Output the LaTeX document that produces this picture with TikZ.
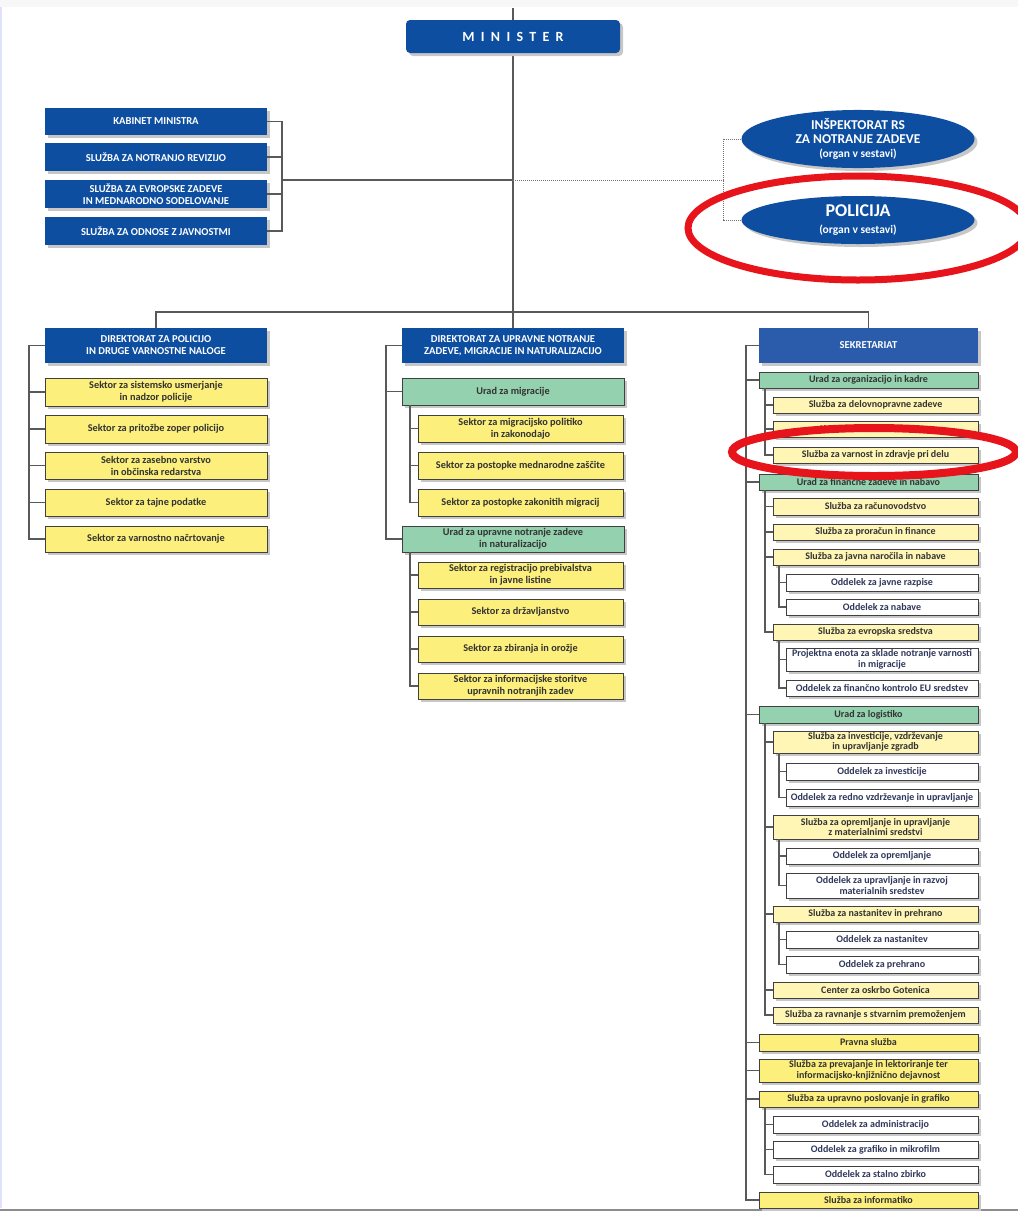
\documentclass[tikz,border=0pt]{standalone}
\usepackage{fontspec}
\setmainfont{Carlito}
\usetikzlibrary{positioning,shapes.geometric,shadows}

\definecolor{minblue}{HTML}{0E4EA1}
\definecolor{sekblue}{HTML}{2B5CAC}
\definecolor{urgreen}{HTML}{94D1AE}
\definecolor{sekyel}{HTML}{FCEF7C}
\definecolor{paleyel}{HTML}{FFF6B6}
\definecolor{ringred}{HTML}{E8141C}
\definecolor{oddtext}{HTML}{30375A}

\tikzset{
  unit/.style={draw=black!75, line width=0.8pt, anchor=north west, inner sep=0pt,
    outer sep=0pt, align=center, text=black!80,
    font=\bfseries\fontsize{10.3}{12}\selectfont,
    general shadow={fill=black!22, shadow xshift=3pt, shadow yshift=-3pt}},
  wd/.style={minimum width=#1pt},
  ht/.style={minimum height=#1pt},
  head/.style={unit, draw=none, fill=minblue, text=white,
    font=\bfseries\fontsize{10.6}{12}\selectfont},
  sektor/.style={unit, fill=sekyel},
  urad/.style={unit, fill=urgreen},
  small/.style={font=\bfseries\fontsize{10}{10.5}\selectfont},
  sluzba/.style={unit, small, fill=paleyel},
  oddelek/.style={unit, small, fill=white, text=oddtext},
  organ/.style={ellipse, fill=minblue, text=white, inner sep=0pt, align=center,
    minimum width=233pt, minimum height=48pt, font=\bfseries,
    general shadow={fill=black!22, shadow xshift=3pt, shadow yshift=-3pt}},
  link/.style={draw=black!65, line width=1.1pt},
  dotlink/.style={draw=black!55, line width=1pt, dash pattern=on 1pt off 1pt},
  ring/.style={draw=ringred, line width=7pt},
}

\begin{document}
\begin{tikzpicture}[x=1pt,y=-1pt]
  \useasboundingbox (0,0) rectangle (1018,1211);
  \fill[black!3] (0,0) rectangle (1018,7);
  \fill[blue!12] (0,7) rectangle (1.5,1208);
  \fill[black!45] (0,1208.5) rectangle (1018,1211);

  % spine of the minister
  \coordinate (top) at (513,8);
  \coordinate (hub) at (513,312);
  \coordinate (jn) at (513,180);
  \coordinate (brk) at (282,180);
  \coordinate (dj) at (723,180);
  \draw[link, line width=1.4pt] (top) -- (hub);

  \node[unit, draw=none, fill=minblue, rounded corners=4pt, wd=214, ht=33, text=white,
    font=\bfseries\fontsize{14}{14}\selectfont] (min) at (406,20)
    {\addfontfeatures{LetterSpace=45}MINISTER};

  % services of the minister
  \node[head, wd=222, ht=27] (kab) at (45,108) {KABINET MINISTRA};
  \node[head, wd=222, ht=28] (rev) at (45,143) {SLUŽBA ZA NOTRANJO REVIZIJO};
  \node[head, wd=222, ht=28] (evr) at (45,180) {SLUŽBA ZA EVROPSKE ZADEVE\\IN MEDNARODNO SODELOVANJE};
  \node[head, wd=222, ht=28] (jav) at (45,217) {SLUŽBA ZA ODNOSE Z JAVNOSTMI};
  \foreach \s in {kab,rev,evr,jav}
    \draw[link] (\s.east) -| (brk);
  \draw[link] (brk) -- (jn);

  % organs within the ministry
  \node[organ, font=\bfseries\fontsize{13.5}{14}\selectfont] (insp) at (858,139)
    {INŠPEKTORAT RS\\ZA NOTRANJE ZADEVE\\{\fontsize{11.5}{14}\selectfont(organ v sestavi)}};
  \node[organ, font=\bfseries\fontsize{18}{17}\selectfont] (pol) at (858,220)
    {POLICIJA\\{\fontsize{11.5}{14}\selectfont(organ v sestavi)}};
  \draw[dotlink] (jn) -- (dj);
  \draw[dotlink] (insp.west) -| (dj);
  \draw[dotlink] (pol.west) -| (dj);

  % directorate for police
  \node[head, wd=222, ht=35] (dp) at (45,328) {DIREKTORAT ZA POLICIJO\\IN DRUGE VARNOSTNE NALOGE};
  \node[sektor, wd=222, ht=28] (p1) at (45,378) {Sektor za sistemsko usmerjanje\\in nadzor policije};
  \node[sektor, wd=222, ht=28] (p2) at (45,415) {Sektor za pritožbe zoper policijo};
  \node[sektor, wd=222, ht=27] (p3) at (45,452) {Sektor za zasebno varstvo\\in občinska redarstva};
  \node[sektor, wd=222, ht=27] (p4) at (45,489) {Sektor za tajne podatke};
  \node[sektor, wd=222, ht=26] (p5) at (45,526) {Sektor za varnostno načrtovanje};
  \foreach \s in {p1,p2,p3,p4,p5}
    \draw[link] (dp.west) -- ++(-16,0) |- (\s.west);

  % directorate for administrative internal affairs
  \node[head, wd=222, ht=35] (dm) at (402,328) {DIREKTORAT ZA UPRAVNE NOTRANJE\\ZADEVE, MIGRACIJE IN NATURALIZACIJO};
  \node[urad, wd=222, ht=27] (um) at (402,378) {Urad za migracije};
  \node[sektor, wd=205, ht=27] (m1) at (418,415) {Sektor za migracijsko politiko\\in zakonodajo};
  \node[sektor, wd=205, ht=27] (m2) at (418,452) {Sektor za postopke mednarodne zaščite};
  \node[sektor, wd=205, ht=27] (m3) at (418,489) {Sektor za postopke zakonitih migracij};
  \node[urad, wd=222, ht=26] (un) at (402,526) {Urad za upravne notranje zadeve\\in naturalizacijo};
  \node[sektor, wd=205, ht=26] (n1) at (418,562) {Sektor za registracijo prebivalstva\\in javne listine};
  \node[sektor, wd=205, ht=26] (n2) at (418,599) {Sektor za državljanstvo};
  \node[sektor, wd=205, ht=26] (n3) at (418,636) {Sektor za zbiranja in orožje};
  \node[sektor, wd=205, ht=26] (n4) at (418,673) {Sektor za informacijske storitve\\upravnih notranjih zadev};
  \foreach \s in {um,un}
    \draw[link] (dm.west) -- ++(-16,0) |- (\s.west);
  \foreach \s in {m1,m2,m3}
    \draw[link] ([xshift=8pt]um.south west) |- (\s.west);
  \foreach \s in {n1,n2,n3,n4}
    \draw[link] ([xshift=8pt]un.south west) |- (\s.west);

  % secretariat
  \node[head, fill=sekblue, wd=219, ht=35] (sek) at (759,328) {SEKRETARIAT};
  \node[urad, small, wd=219, ht=16] (uok) at (759,372) {Urad za organizacijo in kadre};
  \node[sluzba, wd=205, ht=16] (k1) at (773,397) {Služba za delovnopravne zadeve};
  \node[sluzba, wd=205, ht=16] (k2) at (773,421) {Služba za kadrovske zadeve};
  \node[sluzba, wd=205, ht=16] (k3) at (773,447) {Služba za varnost in zdravje pri delu};
  \node[urad, small, wd=219, ht=16] (ufz) at (759,474) {Urad za finančne zadeve in nabavo};
  \node[sluzba, wd=205, ht=17] (f1) at (773,498) {Služba za računovodstvo};
  \node[sluzba, wd=205, ht=16] (f2) at (773,524) {Služba za proračun in finance};
  \node[sluzba, wd=205, ht=16] (f3) at (773,549) {Služba za javna naročila in nabave};
  \node[oddelek, wd=192, ht=17] (f3a) at (786,574) {Oddelek za javne razpise};
  \node[oddelek, wd=192, ht=16] (f3b) at (786,599) {Oddelek za nabave};
  \node[sluzba, wd=205, ht=16] (f4) at (773,624) {Služba za evropska sredstva};
  \node[oddelek, wd=192, ht=23] (f4a) at (786,648) {Projektna enota za sklade notranje varnosti\\in migracije};
  \node[oddelek, wd=192, ht=16] (f4b) at (786,680) {Oddelek za finančno kontrolo EU sredstev};
  \node[urad, small, wd=219, ht=17] (ulo) at (759,706) {Urad za logistiko};
  \node[sluzba, wd=205, ht=22] (g1) at (773,731) {Služba za investicije, vzdrževanje\\in upravljanje zgradb};
  \node[oddelek, wd=192, ht=17] (g1a) at (786,763) {Oddelek za investicije};
  \node[oddelek, wd=192, ht=17] (g1b) at (786,789) {Oddelek za redno vzdrževanje in upravljanje};
  \node[sluzba, wd=205, ht=24] (g2) at (773,815) {Služba za opremljanje in upravljanje\\z materialnimi sredstvi};
  \node[oddelek, wd=192, ht=16] (g2a) at (786,848) {Oddelek za opremljanje};
  \node[oddelek, wd=192, ht=25] (g2b) at (786,873) {Oddelek za upravljanje in razvoj\\materialnih sredstev};
  \node[sluzba, wd=205, ht=16] (g3) at (773,906) {Služba za nastanitev in prehrano};
  \node[oddelek, wd=192, ht=17] (g3a) at (786,931) {Oddelek za nastanitev};
  \node[oddelek, wd=192, ht=17] (g3b) at (786,956) {Oddelek za prehrano};
  \node[sluzba, wd=205, ht=16] (g4) at (773,982) {Center za oskrbo Gotenica};
  \node[sluzba, wd=205, ht=16] (g5) at (773,1007) {Služba za ravnanje s stvarnim premoženjem};
  \node[sektor, small, wd=219, ht=17] (prav) at (759,1034) {Pravna služba};
  \node[sektor, small, wd=219, ht=23] (prev) at (759,1059) {Služba za prevajanje in lektoriranje ter\\informacijsko-knjižnično dejavnost};
  \node[sektor, small, wd=219, ht=16] (upr) at (759,1091) {Služba za upravno poslovanje in grafiko};
  \node[oddelek, wd=205, ht=17] (u1) at (773,1116) {Oddelek za administracijo};
  \node[oddelek, wd=205, ht=17] (u2) at (773,1141) {Oddelek za grafiko in mikrofilm};
  \node[oddelek, wd=205, ht=17] (u3) at (773,1166) {Oddelek za stalno zbirko};
  \node[sektor, small, wd=219, ht=16] (inf) at (759,1192) {Služba za informatiko};

  \foreach \s in {uok,ufz,ulo,prav,prev,upr,inf}
    \draw[link] (sek.west) -- ++(-13,0) |- (\s.west);
  \foreach \s in {k1,k2,k3}
    \draw[link] ([xshift=6pt]uok.south west) |- (\s.west);
  \foreach \s in {f1,f2,f3,f4}
    \draw[link] ([xshift=6pt]ufz.south west) |- (\s.west);
  \foreach \s in {f3a,f3b}
    \draw[link] ([xshift=6pt]f3.south west) |- (\s.west);
  \foreach \s in {f4a,f4b}
    \draw[link] ([xshift=6pt]f4.south west) |- (\s.west);
  \foreach \s in {g1,g2,g3,g4,g5}
    \draw[link] ([xshift=6pt]ulo.south west) |- (\s.west);
  \foreach \s in {g1a,g1b}
    \draw[link] ([xshift=6pt]g1.south west) |- (\s.west);
  \foreach \s in {g2a,g2b}
    \draw[link] ([xshift=6pt]g2.south west) |- (\s.west);
  \foreach \s in {g3a,g3b}
    \draw[link] ([xshift=6pt]g3.south west) |- (\s.west);
  \foreach \s in {u1,u2,u3}
    \draw[link] ([xshift=6pt]upr.south west) |- (\s.west);

  % links to the directorates
  \draw[link, line width=1.4pt] (dp.north) |- (hub) -| (sek.north);
  \draw[link, line width=1.4pt] (hub) -- (dm.north);

  % red marks
  \draw[ring] (858,228) ellipse [x radius=170, y radius=52];
  \draw[ring, line width=8pt] (874,452) ellipse [x radius=142, y radius=24];
\end{tikzpicture}
\end{document}
